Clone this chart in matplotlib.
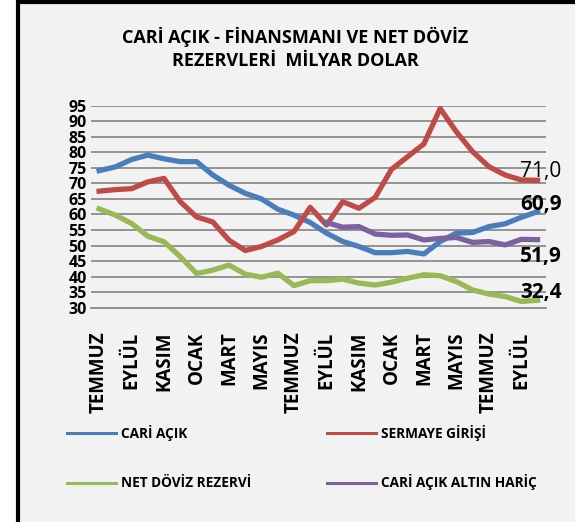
import matplotlib
matplotlib.use("Agg")
import matplotlib.pyplot as plt
from matplotlib.lines import Line2D
from matplotlib.patches import Rectangle
import numpy as np

plt.rcParams['font.family'] = ['Open Sans', 'DejaVu Sans']

# 28 months, July of year 1 to October of year 3; every second month labelled
months = ["TEMMUZ", "", "EYLÜL", "", "KASIM", "", "OCAK", "", "MART", "", "MAYIS", "",
          "TEMMUZ", "", "EYLÜL", "", "KASIM", "", "OCAK", "", "MART", "", "MAYIS", "",
          "TEMMUZ", "", "EYLÜL", ""]

cari_acik = [74.1, 75.3, 77.7, 79.1, 77.9, 77.0, 77.0, 72.7, 69.4, 66.8,
             65.0, 61.7, 59.8, 57.4, 54.0, 51.3, 49.7, 47.7, 47.7, 48.1,
             47.3, 51.3, 54.0, 54.2, 56.1, 57.0, 59.1, 60.9]
sermaye_girisi = [67.5, 68.0, 68.3, 70.5, 71.6, 64.1, 59.2, 57.6, 51.7, 48.4,
                  49.7, 51.8, 54.5, 62.3, 56.6, 64.1, 62.0, 65.5, 74.5, 78.6,
                  82.7, 94.1, 86.6, 80.2, 75.4, 72.7, 71.1, 71.0]
net_doviz = [61.8, 59.8, 57.1, 53.0, 51.2, 46.4, 41.0, 42.1, 43.7, 40.8,
             39.8, 41.1, 37.1, 38.7, 38.7, 39.2, 37.9, 37.3, 38.2, 39.5,
             40.6, 40.3, 38.4, 35.7, 34.4, 33.6, 32.0, 32.4]
cari_altin_haric = [None] * 14 + [57.4, 55.9, 56.1, 53.7, 53.3, 53.4, 51.8, 52.3,
                                   52.6, 51.0, 51.3, 50.2, 52.0, 51.9]

blue = "#4A7EBB"
red = "#BE4B48"
green = "#98B954"
purple = "#7D60A0"

fig = plt.figure(figsize=(5.75, 5.22), dpi=100)
fig.patch.set_facecolor("white")
# chart frame
fig.patches.append(Rectangle((17.5 / 575, -0.02), 1.0, 1.02 - 1.5 / 522,
                             transform=fig.transFigure, facecolor="#F2F2F2",
                             edgecolor="black", linewidth=3, zorder=0))

ax = fig.add_axes([91 / 575, 1 - 307.7 / 522, 454.7 / 575, 202 / 522])
ax.set_facecolor("none")
ax.set_zorder(2)

x = np.arange(len(months))
altin = np.array([np.nan if v is None else v for v in cari_altin_haric])
lw = 3.8
ax.plot(x, cari_acik, color=blue, lw=lw, solid_joinstyle="round", zorder=3)
ax.plot(x, sermaye_girisi, color=red, lw=lw, solid_joinstyle="round", zorder=3)
ax.plot(x, net_doviz, color=green, lw=lw, solid_joinstyle="round", zorder=3)
ax.plot(x, altin, color=purple, lw=lw, solid_joinstyle="round", zorder=3)

ax.set_xlim(-0.5, len(months) - 0.5)
ax.set_ylim(30, 95)
ax.set_yticks(np.arange(30, 96, 5))
ax.grid(axis="y", color="#8C8C8C", lw=1.3)
ax.set_axisbelow(True)
for s in ["top", "right", "left"]:
    ax.spines[s].set_visible(False)
ax.spines["bottom"].set_color("#8C8C8C")
ax.spines["bottom"].set_linewidth(1.3)
ax.tick_params(length=0)
ax.tick_params(axis="y", pad=3, labelsize=11.5)
ax.tick_params(axis="x", pad=17, labelsize=13.5)
ax.set_xticks(x)
ax.set_xticklabels(months, rotation=90, fontweight="bold")
for t in ax.get_yticklabels():
    t.set_fontweight("bold")

# end-of-series labels
last = len(months) - 1
def lab(v, dy, bold):
    ax.annotate(f"{v:.1f}".replace(".", ","), (last, v), xytext=(2.2, dy),
                textcoords="offset points", ha="center", va="baseline", fontsize=15,
                fontweight="bold" if bold else "normal", zorder=4,
                annotation_clip=False)
lab(sermaye_girisi[-1], 2.4, False)
lab(cari_acik[-1], 0.9, True)
lab(cari_altin_haric[-1], -16, True)
lab(net_doviz[-1], 1.7, True)

fig.text(295 / 575, 1 - 37 / 522, "CARİ AÇIK - FİNANSMANI VE NET DÖVİZ",
         ha="center", va="center", fontsize=13, fontweight="bold")
fig.text(295 / 575, 1 - 61 / 522, "REZERVLERİ  MİLYAR DOLAR",
         ha="center", va="center", fontsize=13, fontweight="bold")

legend_kw = dict(loc="upper left", frameon=False, fontsize=9.8, handlelength=3.6,
                 handletextpad=0.35, borderpad=0, borderaxespad=0)
leg1 = fig.legend([Line2D([], [], color=blue, lw=2.2), Line2D([], [], color=green, lw=2.2)],
                  ["CARİ AÇIK", "NET DÖVİZ REZERVİ"], labelspacing=2.6,
                  bbox_to_anchor=(67 / 575, 1 - 425 / 522), **legend_kw)
leg2 = fig.legend([Line2D([], [], color=red, lw=2.2), Line2D([], [], color=purple, lw=2.2)],
                  ["SERMAYE GİRİŞİ", "CARİ AÇIK ALTIN HARİÇ"], labelspacing=2.45,
                  bbox_to_anchor=(327 / 575, 1 - 425 / 522), **legend_kw)
for leg in (leg1, leg2):
    for t in leg.get_texts():
        t.set_fontweight("bold")

fig.savefig("out.png", dpi=100, facecolor="white")
